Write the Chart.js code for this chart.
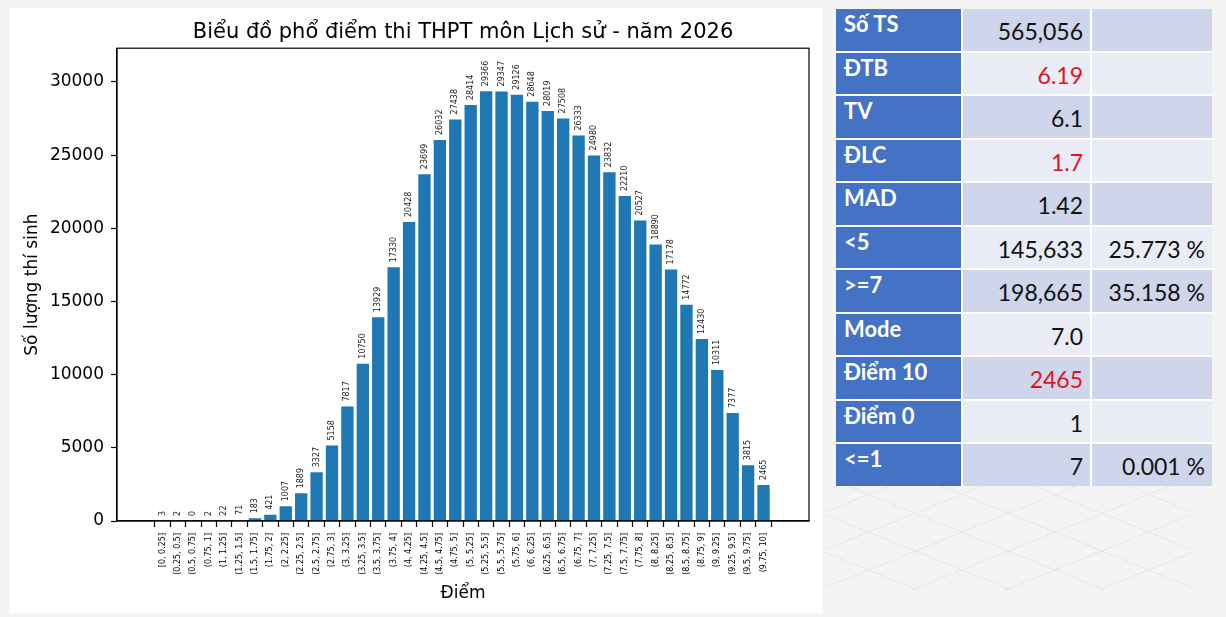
<!DOCTYPE html>
<html lang="vi">
<head>
<meta charset="utf-8">
<title>Phổ điểm Lịch sử 2026</title>
<script src="https://cdn.jsdelivr.net/npm/chart.js@4.4.1/dist/chart.umd.min.js"></script>
<style>
  html, body { margin: 0; padding: 0; }
  body {
    width: 1226px; height: 617px; overflow: hidden; position: relative;
    background: #f4f4f4;
  }
  #panel {
    position: absolute; left: 10px; top: 8px; width: 812px; height: 605px;
    background: #fff;
  }
  #pattern {
    position: absolute; left: 826px; top: 482px; width: 365px; height: 108px;
    background:
      repeating-linear-gradient(22deg, transparent 0 34px, #e2e2e2 34px 35px),
      repeating-linear-gradient(-22deg, transparent 0 34px, #e2e2e2 34px 35px);
    opacity: 0.7;
  }
  #stats {
    position: absolute; left: 836px; top: 9px; width: 376px;
    display: grid; grid-template-columns: 125px 127px 120px;
    gap: 2px; background: #fff;
    font-family: Lato, "Noto Sans", sans-serif;
  }
  #stats div { height: 41.5px; box-sizing: border-box; }
  #stats .lab {
    background: #4472c4; color: #fff; font-weight: bold; font-size: 22px;
    padding: 1px 0 0 8px;
  }
  #stats .val {
    color: #111; font-size: 23px; text-align: right;
    padding: 8px 7px 0 0;
  }
  #stats .dark { background: #cfd5ea; }
  #stats .light { background: #e9ebf5; }
  #stats .red { color: #e0141e; }
</style>
</head>
<body>
<div id="panel"><canvas id="chartPhoDiem" width="812" height="605"></canvas></div>
<div id="pattern"></div>
<div id="stats"></div>
<script>
// khoảng điểm
const scoreBins = [
  '[0, 0.25]', '(0.25, 0.5]', '(0.5, 0.75]', '(0.75, 1]', '(1, 1.25]',
  '(1.25, 1.5]', '(1.5, 1.75]', '(1.75, 2]', '(2, 2.25]', '(2.25, 2.5]',
  '(2.5, 2.75]', '(2.75, 3]', '(3, 3.25]', '(3.25, 3.5]', '(3.5, 3.75]',
  '(3.75, 4]', '(4, 4.25]', '(4.25, 4.5]', '(4.5, 4.75]', '(4.75, 5]',
  '(5, 5.25]', '(5.25, 5.5]', '(5.5, 5.75]', '(5.75, 6]', '(6, 6.25]',
  '(6.25, 6.5]', '(6.5, 6.75]', '(6.75, 7]', '(7, 7.25]', '(7.25, 7.5]',
  '(7.5, 7.75]', '(7.75, 8]', '(8, 8.25]', '(8.25, 8.5]', '(8.5, 8.75]',
  '(8.75, 9]', '(9, 9.25]', '(9.25, 9.5]', '(9.5, 9.75]', '(9.75, 10]'
];
// số thí sinh mỗi khoảng
const studentCounts = [
  3, 2, 0, 2, 22, 71, 183, 421, 1007, 1889,
  3327, 5158, 7817, 10750, 13929, 17330, 20428, 23699, 26032, 27438,
  28414, 29366, 29347, 29126, 28648, 28019, 27508, 26333, 24980, 23832,
  22210, 20527, 18890, 17178, 14772, 12430, 10311, 7377, 3815, 2465
];
const yTickValues = [0, 5000, 10000, 15000, 20000, 25000, 30000];

// bảng thống kê
const statLabels = ['Số TS', 'ĐTB', 'TV', 'ĐLC', 'MAD', '<5', '>=7', 'Mode', 'Điểm 10', 'Điểm 0', '<=1'];
const statValues = ['565,056', '6.19', '6.1', '1.7', '1.42', '145,633', '198,665', '7.0', '2465', '1', '7'];
const statPercents = ['', '', '', '', '', '25.773 %', '35.158 %', '', '', '', '0.001 %'];
const statRed = ['ĐTB', 'ĐLC', 'Điểm 10'];

const stats = document.getElementById('stats');
statLabels.forEach((lab, i) => {
  const tone = i % 2 === 0 ? 'dark' : 'light';
  const cells = [
    ['lab', lab],
    ['val ' + tone + (statRed.includes(lab) ? ' red' : ''), statValues[i]],
    ['val ' + tone, statPercents[i]]
  ];
  cells.forEach(([cls, txt]) => {
    const d = document.createElement('div');
    d.className = cls;
    d.textContent = txt;
    stats.appendChild(d);
  });
});

const FONT = 'DejaVu Sans';

// khung 4 cạnh + nhãn số trên cột
const frameAndLabels = {
  id: 'frameAndLabels',
  afterDatasetsDraw(chart) {
    const ctx = chart.ctx;
    const meta = chart.getDatasetMeta(0);
    ctx.save();
    ctx.font = '8px "' + FONT + '"';
    ctx.fillStyle = '#222';
    ctx.textAlign = 'left';
    ctx.textBaseline = 'middle';
    meta.data.forEach((bar, i) => {
      ctx.save();
      ctx.translate(bar.x, bar.y - 5);
      ctx.rotate(-Math.PI / 2);
      ctx.fillText(String(studentCounts[i]), 0, 0);
      ctx.restore();
    });
    const a = chart.chartArea;
    ctx.strokeStyle = '#000';
    ctx.lineWidth = 1.2;
    ctx.strokeRect(a.left, a.top, a.right - a.left, a.bottom - a.top);
    ctx.restore();
  }
};

new Chart(document.getElementById('chartPhoDiem'), {
  type: 'bar',
  data: {
    datasets: [{
      data: studentCounts.map((v, i) => ({ x: i, y: v })),
      backgroundColor: '#1f77b4',
      borderWidth: 0,
      barPercentage: 0.8,
      categoryPercentage: 1.0
    }]
  },
  options: {
    responsive: false,
    animation: false,
    layout: { padding: { right: 13, bottom: 0, left: 0, top: 0 } },
    plugins: {
      legend: { display: false },
      tooltip: { enabled: false },
      title: {
        display: true,
        fullSize: false,
        text: 'Biểu đồ phổ điểm thi THPT môn Lịch sử - năm 2026',
        color: '#000',
        font: { family: FONT, size: 21, weight: 'normal' },
        padding: { top: 12, bottom: 3 }
      }
    },
    scales: {
      x: {
        type: 'linear',
        min: -2.39,
        max: 41.39,
        afterBuildTicks(scale) {
          scale.ticks = scoreBins.map((_, i) => ({ value: i }));
        },
        afterFit(scale) { scale.height = 92; },
        grid: { drawOnChartArea: false, drawTicks: true, tickLength: 6, color: '#000', tickWidth: 1.2 },
        border: { display: true, color: '#000', width: 1.2 },
        ticks: {
          autoSkip: false,
          maxRotation: 90,
          minRotation: 90,
          padding: 6,
          color: '#000',
          font: { family: FONT, size: 8 },
          callback: (v) => scoreBins[v]
        },
        title: {
          display: true,
          text: 'Điểm',
          color: '#000',
          font: { family: FONT, size: 17 },
          padding: { top: 0, bottom: 9 }
        }
      },
      y: {
        min: 0,
        max: Math.max(...studentCounts) * 1.1,
        afterBuildTicks(scale) {
          scale.ticks = yTickValues.map(v => ({ value: v }));
        },
        afterFit(scale) { scale.width = 107; },
        grid: { drawOnChartArea: false, drawTicks: true, tickLength: 6, color: '#000', tickWidth: 1.2 },
        border: { display: true, color: '#000', width: 1.2 },
        ticks: {
          padding: 7,
          color: '#000',
          font: { family: FONT, size: 17 },
          callback: (v) => String(v)
        },
        title: {
          display: true,
          text: 'Số lượng thí sinh',
          color: '#000',
          font: { family: FONT, size: 17 },
          padding: { top: 12, bottom: 0 }
        }
      }
    }
  },
  plugins: [frameAndLabels]
});
</script>
</body>
</html>
